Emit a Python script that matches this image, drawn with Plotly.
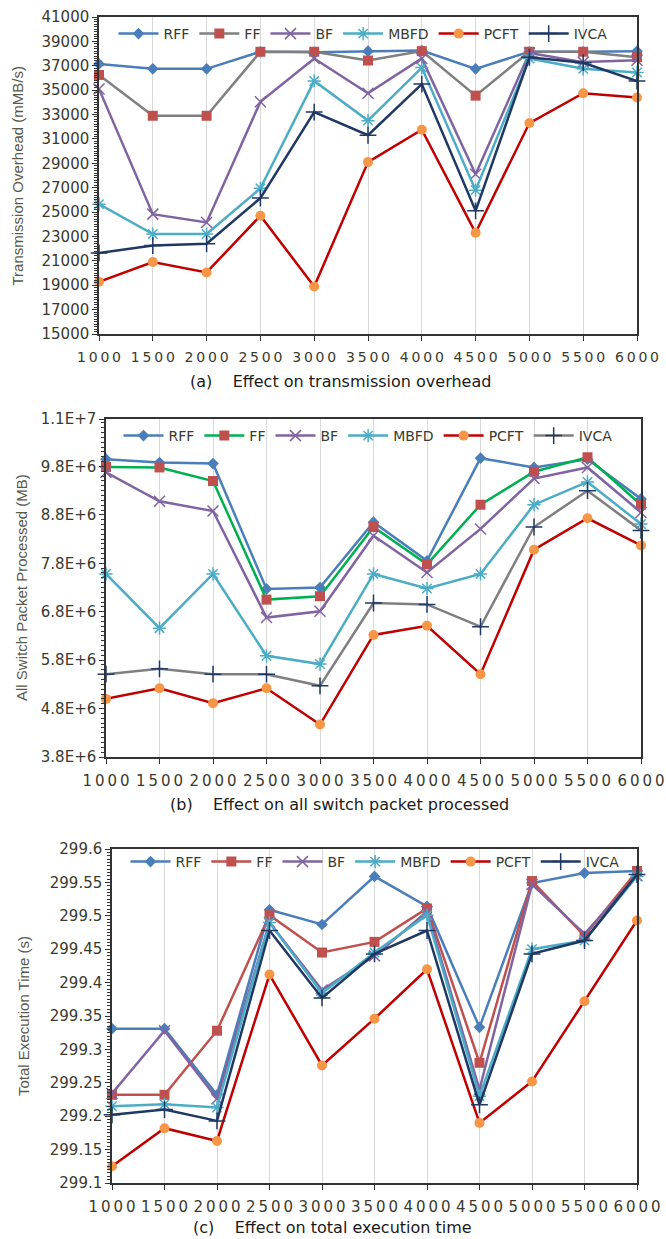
import plotly.graph_objects as go

W, H = 666, 1239

# ---------------- data ----------------
x_vals = [1000, 1500, 2000, 2500, 3000, 3500, 4000, 4500, 5000, 5500, 6000]
series_names = ["RFF", "FF", "BF", "MBFD", "PCFT", "IVCA"]

# (a) Transmission overhead (mMB/s)
a_rff = [37150, 36750, 36750, 38150, 38100, 38200, 38250, 36750, 38150, 38150, 38200]
a_ff = [36250, 32900, 32900, 38150, 38150, 37430, 38200, 34550, 38150, 38150, 37700]
a_bf = [35100, 24830, 24150, 34050, 37600, 34750, 37600, 28100, 38050, 37300, 37450]
a_mbfd = [25650, 23200, 23200, 26950, 35750, 32500, 36850, 26800, 37600, 36750, 36450]
a_pcft = [19280, 20900, 20050, 24700, 18900, 29100, 31750, 23300, 32300, 34750, 34400]
a_ivca = [21650, 22250, 22400, 26150, 33200, 31300, 35500, 25100, 37700, 37250, 35750]

# (b) All switch packet processed (MB)
b_rff = [9.95e6, 9.88e6, 9.86e6, 7.27e6, 7.30e6, 8.65e6, 7.85e6, 9.97e6, 9.78e6, 9.95e6, 9.13e6]
b_ff = [9.79e6, 9.78e6, 9.50e6, 7.05e6, 7.12e6, 8.55e6, 7.78e6, 9.01e6, 9.69e6, 9.99e6, 9.01e6]
b_bf = [9.68e6, 9.08e6, 8.88e6, 6.68e6, 6.81e6, 8.37e6, 7.61e6, 8.51e6, 9.55e6, 9.78e6, 8.85e6]
b_mbfd = [7.58e6, 6.46e6, 7.58e6, 5.89e6, 5.72e6, 7.58e6, 7.28e6, 7.58e6, 9.01e6, 9.48e6, 8.61e6]
b_pcft = [5.00e6, 5.22e6, 4.91e6, 5.22e6, 4.47e6, 6.32e6, 6.51e6, 5.51e6, 8.08e6, 8.73e6, 8.17e6]
b_ivca = [5.51e6, 5.62e6, 5.51e6, 5.51e6, 5.27e6, 6.98e6, 6.95e6, 6.49e6, 8.55e6, 9.30e6, 8.48e6]

# (c) Total execution time (s)
c_rff = [299.331, 299.331, 299.232, 299.509, 299.487, 299.559, 299.514, 299.333, 299.549, 299.564, 299.567]
c_ff = [299.232, 299.232, 299.328, 299.501, 299.445, 299.461, 299.511, 299.280, 299.552, 299.470, 299.567]
c_bf = [299.234, 299.328, 299.226, 299.490, 299.389, 299.440, 299.506, 299.240, 299.547, 299.473, 299.560]
c_mbfd = [299.215, 299.218, 299.213, 299.490, 299.384, 299.445, 299.501, 299.230, 299.450, 299.463, 299.559]
c_pcft = [299.125, 299.182, 299.163, 299.412, 299.276, 299.346, 299.420, 299.190, 299.252, 299.372, 299.493]
c_ivca = [299.202, 299.210, 299.193, 299.478, 299.377, 299.443, 299.478, 299.217, 299.443, 299.463, 299.562]

a_ticks = [15000, 17000, 19000, 21000, 23000, 25000, 27000, 29000, 31000, 33000, 35000, 37000, 39000, 41000]
a_ticktext = [str(v) for v in a_ticks]
b_ticks = [3.8e6, 4.8e6, 5.8e6, 6.8e6, 7.8e6, 8.8e6, 9.8e6, 1.078e7]
b_ticktext = ["3.8E+6", "4.8E+6", "5.8E+6", "6.8E+6", "7.8E+6", "8.8E+6", "9.8E+6", "1.1E+7"]
c_ticks = [299.1, 299.15, 299.2, 299.25, 299.3, 299.35, 299.4, 299.45, 299.5, 299.55, 299.6]
c_ticktext = ["299.1", "299.15", "299.2", "299.25", "299.3", "299.35", "299.4", "299.45", "299.5", "299.55", "299.6"]

# ---------------- helpers ----------------
def px(x):
    return x / W

def py(y):
    return 1 - y / H

BLUE = "#4a7ebb"
GREY = "#7f7f7f"
RED_SQ = "#c0504d"
PURPLE = "#8064a2"
CYAN = "#4bacc6"
DRED = "#c00000"
ORANGE = "#f79646"
NAVY = "#1f3864"
GREEN = "#00b050"

def style(name, line_color):
    if name == "RFF":
        return dict(line=dict(color=BLUE, width=2.5),
                    marker=dict(symbol="diamond", size=9, color=BLUE))
    if name == "FF":
        return dict(line=dict(color=line_color, width=2.5),
                    marker=dict(symbol="square", size=10, color=RED_SQ))
    if name == "BF":
        return dict(line=dict(color=PURPLE, width=2.5),
                    marker=dict(symbol="x-thin", size=11, color=PURPLE,
                                line=dict(color=PURPLE, width=1.5)))
    if name == "MBFD":
        return dict(line=dict(color=CYAN, width=2.5),
                    marker=dict(symbol="asterisk", size=11, color=CYAN,
                                line=dict(color=CYAN, width=1.5)))
    if name == "PCFT":
        return dict(line=dict(color=DRED, width=2.5),
                    marker=dict(symbol="circle", size=10, color=ORANGE))
    return dict(line=dict(color=line_color, width=2.5),
                marker=dict(symbol="cross-thin", size=12, color=NAVY,
                            line=dict(color=NAVY, width=1.5)))

FONT = "DejaVu Sans, Verdana, sans-serif"
CAPFONT = "DejaVu Sans, Arial, sans-serif"

panels = [
    dict(data=[a_rff, a_ff, a_bf, a_mbfd, a_pcft, a_ivca],
         ff_line=GREY, ivca_line=NAVY,
         left=99, right=637, top=17, bottom=334,
         yrange=[15000, 41000], yticks=a_ticks, yticktext=a_ticktext, minor=200,
         ytitle="Transmission Overhead (mMB/s)", title_x=17,
         leg_x=363, leg_top=18,
         caption="(a)    Effect on transmission overhead", cap_x=340, cap_y=381,
         xfont=14),
    dict(data=[b_rff, b_ff, b_bf, b_mbfd, b_pcft, b_ivca],
         ff_line=GREEN, ivca_line=GREY,
         left=106, right=641, top=419, bottom=757,
         yrange=[3.8e6, 1.078e7], yticks=b_ticks, yticktext=b_ticktext, minor=1e5,
         ytitle="All Switch Packet Processed (MB)", title_x=21,
         leg_x=368, leg_top=420,
         caption="(b)    Effect on all switch packet processed", cap_x=339, cap_y=804,
         xfont=15),
    dict(data=[c_rff, c_ff, c_bf, c_mbfd, c_pcft, c_ivca],
         ff_line=RED_SQ, ivca_line=NAVY,
         left=112, right=637, top=849, bottom=1183,
         yrange=[299.1, 299.6], yticks=c_ticks, yticktext=c_ticktext, minor=0.005,
         ytitle="Total Execution Time (s)", title_x=23,
         leg_x=375, leg_top=846,
         caption="(c)    Effect on total execution time", cap_x=332, cap_y=1227,
         xfont=15),
]

fig = go.Figure()
layout = dict(
    width=W, height=H,
    margin=dict(l=0, r=0, t=0, b=0, autoexpand=False),
    paper_bgcolor="white", plot_bgcolor="white",
    font=dict(family=FONT, color="#3a3a2e"),
    showlegend=True,
    annotations=[],
)

TICKCOL = "#3a3a2e"
for i, p in enumerate(panels):
    n = "" if i == 0 else str(i + 1)
    legend_id = "legend" if i == 0 else "legend%d" % (i + 1)
    for name, vals in zip(series_names, p["data"]):
        st = style(name, p["ivca_line"] if name == "IVCA" else p["ff_line"])
        fig.add_trace(go.Scatter(
            x=x_vals, y=vals, name=name, mode="lines+markers",
            xaxis="x" + n, yaxis="y" + n, legend=legend_id,
            cliponaxis=False, **st))
    xtext = ["\u2009".join(list(str(v))) for v in x_vals]
    layout["xaxis" + n] = dict(
        domain=[px(p["left"]), px(p["right"])], anchor="y" + n,
        range=[1000, 6000], tickvals=x_vals, ticktext=xtext, tickangle=0,
        automargin=False, ticklabelstandoff=4, ticklabeloverflow="allow",
        showgrid=True, gridcolor="#d9d9d9", gridwidth=1,
        showline=True, linecolor="#333333", linewidth=1.5, mirror=True,
        ticks="outside", ticklen=5, tickcolor="#333333",
        tickfont=dict(size=p["xfont"], color=TICKCOL, family=FONT), zeroline=False,
    )
    layout["yaxis" + n] = dict(
        domain=[py(p["bottom"]), py(p["top"])], anchor="x" + n,
        range=p["yrange"], tickvals=p["yticks"], ticktext=p["yticktext"],
        automargin=False,
        showgrid=False, zeroline=False,
        showline=True, linecolor="#333333", linewidth=1.5, mirror=True,
        ticks="outside", ticklen=5, tickcolor="#333333",
        minor=dict(ticks="outside", ticklen=3, dtick=p["minor"], tick0=0,
                   tickcolor="#333333", showgrid=False),
        tickfont=dict(size=15, color=TICKCOL, family=FONT),
    )
    layout[legend_id] = dict(
        orientation="h", x=px(p["leg_x"]), xanchor="center",
        y=py(p["leg_top"]), yanchor="top", itemwidth=40,
        bgcolor="rgba(255,255,255,0)", font=dict(size=14, color="#3a3a2e", family=FONT),
        itemsizing="trace", tracegroupgap=0,
    )
    layout["annotations"].append(dict(
        text=p["ytitle"], x=px(p["title_x"]), y=py((p["top"] + p["bottom"]) / 2),
        xref="paper", yref="paper", showarrow=False, textangle=-90,
        xanchor="center", yanchor="middle",
        font=dict(size=15, color="#5a5a4c", family="Liberation Sans, Arial, sans-serif"),
    ))
    layout["annotations"].append(dict(
        text=p["caption"], x=px(p["cap_x"]), y=py(p["cap_y"]),
        xref="paper", yref="paper", showarrow=False, xanchor="center", yanchor="middle",
        font=dict(size=16, color="#1a1a1a", family=CAPFONT),
    ))

fig.update_layout(**layout)
fig.write_html("out.html")
